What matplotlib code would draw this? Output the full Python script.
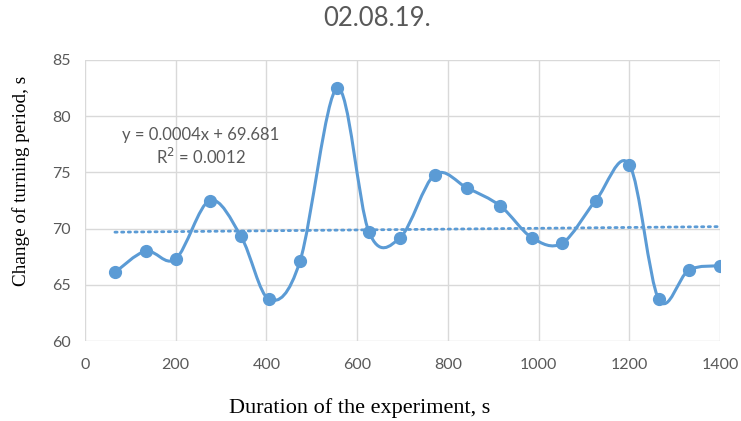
import numpy as np
import matplotlib.pyplot as plt
from matplotlib.path import Path
from matplotlib.patches import PathPatch

# data
t = np.array([66, 134, 200, 275, 344, 406, 474, 556, 626, 695,
              771, 843, 916, 985, 1052, 1126, 1200, 1265, 1331, 1399], dtype=float)
period = np.array([66.1, 68.0, 67.3, 72.5, 69.3, 63.7, 67.1, 82.5, 69.7, 69.2,
                   74.8, 73.6, 72.0, 69.2, 68.7, 72.5, 75.7, 63.7, 66.3, 66.7])
title = "02.08.19."
eq_line = "y = 0.0004x + 69.681"
r2_line = "R$^2$ = 0.0012"

blue = '#5B9BD5'
grey = '#595959'
sans = ['Lato', 'DejaVu Sans']
serif = ['Liberation Serif', 'DejaVu Serif']


def smooth_path(x, y, k=1/6.):
    # Excel-style smoothed line: cubic bezier through the points (Catmull-Rom tangents)
    verts = [(x[0], y[0])]
    codes = [Path.MOVETO]
    n = len(x)
    for i in range(n - 1):
        x0, y0 = (x[i-1], y[i-1]) if i > 0 else (x[i], y[i])
        x3, y3 = (x[i+2], y[i+2]) if i < n - 2 else (x[i+1], y[i+1])
        c1 = (x[i] + (x[i+1] - x0) * k, y[i] + (y[i+1] - y0) * k)
        c2 = (x[i+1] - (x3 - x[i]) * k, y[i+1] - (y3 - y[i]) * k)
        verts += [c1, c2, (x[i+1], y[i+1])]
        codes += [Path.CURVE4] * 3
    return Path(verts, codes)


fig = plt.figure(figsize=(7.41, 4.21), dpi=100)
ax = fig.add_axes([0.1147, 0.19, 0.857, 0.6675])

ax.add_patch(PathPatch(smooth_path(t, period), fill=False, edgecolor=blue, lw=2.2,
                       capstyle='round', joinstyle='round', zorder=3))
ax.plot(t, period, 'o', color=blue, ms=8.5, zorder=4)

# linear trendline
a, b = np.polyfit(t, period, 1)
xt = np.array([t[0], t[-1]])
ax.plot(xt, a * xt + b, linestyle=(0, (0.8, 1.6)), color=blue, lw=2.0,
        dash_capstyle='round', zorder=2)

ax.text(255, 78.34, eq_line, ha='center', va='center',
        fontsize=12, color=grey, family=sans)
ax.text(255, 76.36, r2_line, ha='center', va='center',
        fontsize=12, color=grey, family=sans)

ax.set_xlim(0, 1400)
ax.set_ylim(60, 85)
ax.set_xticks(np.arange(0, 1401, 200))
ax.set_yticks(np.arange(60, 86, 5))
ax.grid(True, color='#D9D9D9', lw=1)
ax.set_axisbelow(True)
for s in ax.spines.values():
    s.set_visible(False)
ax.tick_params(length=0, colors=grey, labelsize=11.5, pad=12)
for lab in ax.get_xticklabels() + ax.get_yticklabels():
    lab.set_family(sans)
ax.tick_params(axis='y', pad=10)

ax.set_xlabel('Duration of the experiment, s', family=serif, fontsize=16, va='center')
ax.set_ylabel('Change of turning period, s', family=serif, fontsize=13.8, va='center')
ax.xaxis.set_label_coords(0.433, -0.238)
ax.yaxis.set_label_coords(-0.1, 0.569)
fig.text(376.7 / 741, 1 - 19 / 421, title, ha='center', va='center',
         fontsize=18.5, color=grey, family=sans)

fig.savefig('out.png', dpi=100)
